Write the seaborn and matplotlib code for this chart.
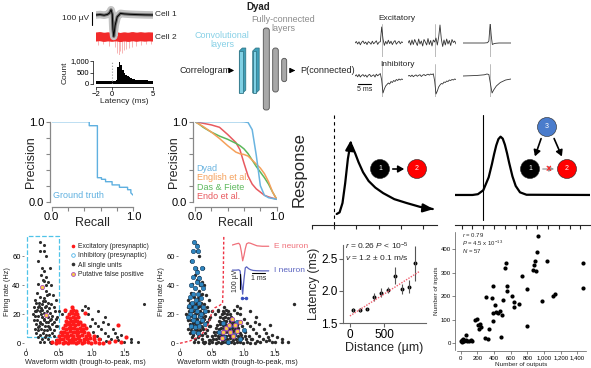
import numpy as np
import matplotlib.pyplot as plt
import matplotlib.patches as mpatches
from matplotlib.lines import Line2D
import seaborn as sns

W, H = 591, 368

# ---- example pair: spike waveforms (uV) and cross-correlogram ----
cell1_t = [-2, -1.5, -1, -0.6, -0.35, -0.15, 0, 0.08, 0.18, 0.35, 0.6, 1.0, 1.5, 2.2, 3, 4, 5]
cell1_uv = [0, 3, -2, 4, 15, 40, 5, -110, -165, -80, -15, 12, 8, 5, 3, 1, 0]
cell2_t = [-2, -1.5, -1, -0.5, 0, 0.5, 1, 1.5, 2, 2.5, 3, 3.5, 4, 4.5, 5]
cell2_uv = [0, 4, -3, 2, -2, 3, -4, 2, -3, 4, -2, 3, -1, 2, 0]
cell2_spike_t = [-1.7, -1.1, -0.4, 0.3, 0.6, 0.8, 1.0, 1.2, 1.4, 1.7, 2.0, 2.4, 2.9, 3.5, 4.2, 4.7]
cell2_spike_uv = [-60, -55, -65, -80, -120, -135, -110, -125, -100, -95, -85, -75, -65, -60, -55, -50]

ccg_lag = [round(-1.9 + 0.2 * i, 1) for i in range(35)]
ccg_count = [115, 125, 110, 130, 120, 128, 135, 125, 132, 140,
             145, 150, 170,
             720, 960, 820, 620, 490, 390, 330, 285, 250, 225, 205, 190,
             180, 175, 170, 165, 160, 158, 155, 150, 148, 145]

# ---- excitatory / inhibitory example traces (ms, arbitrary units) ----
trace_t = [-10 + 0.5 * i for i in range(37)]
exc_a = [0.0, 1.5, -1.0, 1.2, -1.8, 0.8, 2.0, -0.6, 1.0, -1.6, 1.4, 0.4, -1.2, 1.8, -0.8, 0.6, 2.2,
         -1.4, 0.8, 1.2, 16.0, 4.0, -2.4, 1.6, -1.0, 2.8, -0.6, 1.8, -1.6, 1.0, 2.4, -1.2, 0.6, 1.8, -0.8, 1.2, 0.4]
exc_b = [0.0, 2.5, -2.0, 3.0, -1.5, 3.5, 0.5, -2.5, 4.0, -1.0, 2.0, -3.0, 3.5, 1.0, -2.0, 4.5, -1.5, 2.5,
         -3.0, 3.0, 1.0, 5.0, -2.0, 6.0, 18.0, 4.0, -3.5, 3.0, -2.0, 4.0, -1.0, 2.5, -2.5, 3.5, 0.5, 2.0, -1.0]
exc_c_t = [-10, -2, -0.8, -0.3, 0.2, 0.6, 1.0, 1.5, 2.2, 3.5, 8]
exc_c = [0, 0, 0.3, 2.0, 20.0, 7.0, -1.5, -0.8, -0.3, 0, 0]
inh_a = [0.0, 1.2, -0.8, 1.6, -1.0, 0.6, 1.4, -0.4, 1.0, -1.2, 0.8, 1.6, -0.6, 0.4, 1.2, -1.0, 1.8,
         0.2, 1.4, 2.4, -4.0, -17.0, -13.0, -10.0, -8.5, -7.0, -8.0, -5.5, -6.5, -4.5, -5.5, -3.5, -4.5, -3.0, -4.0, -3.0, -3.5]
inh_b = [0.0, 0.6, -0.5, 0.9, -0.7, 0.4, 1.1, -0.3, 0.7, 1.3, -0.5, 0.8, 1.5, 0.3, 1.2, 1.8, 0.9, 2.0,
         1.4, 2.2, -5.0, -18.0, -15.0, -11.0, -9.0, -7.5, -8.0, -6.0, -6.5, -5.0, -5.5, -4.0, -4.5, -3.5, -4.0, -3.0, -3.5]
inh_c_t = [-10, -5, -2, -1, -0.3, 0.3, 0.9, 1.5, 2.5, 4, 6, 8]
inh_c = [0, 0.5, 1.2, 2.0, 1.5, -8.0, -17.0, -14.0, -10.0, -6.5, -4.0, -3.0]

# ---- precision-recall ----
gt_recall = [0, 0.46, 0.46, 0.56, 0.56, 0.61, 0.61, 0.66, 0.66, 0.74, 0.74, 0.83, 0.83, 0.93, 0.93, 0.97, 0.97, 1.0]
gt_precision = [1.0, 1.0, 0.95, 0.95, 0.30, 0.30, 0.28, 0.28, 0.25, 0.25, 0.21, 0.21, 0.18, 0.18, 0.15, 0.15, 0.11, 0.08]
recall = [0, 0.05, 0.1, 0.2, 0.3, 0.4, 0.5, 0.55, 0.6, 0.65, 0.7, 0.75, 0.8, 0.85, 0.9, 0.95, 1.0]
prec_dyad = [1, 1, 1, 1, 1, 1, 1, 1, 0.998, 0.99, 0.9, 0.58, 0.2, 0.08, 0.05, 0.04, 0.03]
prec_english = [1, 0.97, 0.94, 0.87, 0.79, 0.7, 0.62, 0.6, 0.59, 0.57, 0.52, 0.47, 0.42, 0.35, 0.25, 0.12, 0.03]
prec_das = [1, 0.97, 0.93, 0.87, 0.82, 0.78, 0.73, 0.7, 0.66, 0.6, 0.52, 0.44, 0.37, 0.3, 0.22, 0.12, 0.03]
prec_endo = [1, 0.99, 0.98, 0.96, 0.93, 0.84, 0.74, 0.65, 0.48, 0.32, 0.22, 0.16, 0.12, 0.08, 0.06, 0.045, 0.03]
methods = ["Dyad", "English et al.", "Das & Fiete", "Endo et al."]

# ---- schematic responses ----
resp1_t = [1.12, 1.25, 1.38, 1.5, 1.62, 1.72, 1.8, 1.95, 2.1, 2.3, 2.55, 2.85, 3.2, 3.7, 4.25, 4.85, 5.35]
resp1_y = [0.10, 0.115, 0.2, 0.38, 0.6, 0.72, 0.72, 0.65, 0.57, 0.48, 0.4, 0.34, 0.29, 0.235, 0.2, 0.165, 0.147]
resp2_t = [-0.62, 1.0, 1.5, 2.0, 2.5, 2.8, 3.0, 3.2, 3.4, 3.6, 3.8, 4.0, 4.2, 4.4, 4.7, 5.0, 5.4, 6.0, 11.88]
resp2_y = [0.273, 0.273, 0.28, 0.316, 0.434, 0.554, 0.644, 0.724, 0.781, 0.803, 0.785, 0.73, 0.652, 0.563,
           0.442, 0.355, 0.297, 0.275, 0.273]

# ---- waveform width vs firing rate ----
narrow_w = [0.22, 0.27, 0.21, 0.27, 0.18, 0.30, 0.25, 0.36, 0.27, 0.23, 0.30, 0.28, 0.34, 0.19, 0.31, 0.38,
            0.24, 0.30, 0.17, 0.35, 0.41, 0.22, 0.28, 0.45, 0.13, 0.15, 0.20, 0.25, 0.33, 0.38, 0.12, 0.18,
            0.23, 0.29, 0.35, 0.42, 0.16, 0.21, 0.27, 0.32, 0.37, 0.44, 0.10, 0.14, 0.19, 0.24, 0.30, 0.34,
            0.40, 0.47, 0.12, 0.17, 0.22, 0.27, 0.31, 0.36, 0.43, 0.15, 0.20, 0.25, 0.29, 0.33, 0.39, 0.46,
            0.13, 0.18, 0.23, 0.27, 0.32, 0.37, 0.42, 0.16, 0.21, 0.26, 0.30, 0.35, 0.40, 0.19, 0.24, 0.29,
            0.34, 0.22, 0.28, 0.37, 0.26, 0.32, 0.20, 0.38, 0.17, 0.25, 0.31, 0.21, 0.27, 0.35, 0.14, 0.29,
            0.23, 0.33, 0.19, 0.26]
narrow_fr = [70, 68, 64, 64, 57, 60, 52, 52, 50, 47, 46, 43, 42, 41, 40, 40,
             38, 36, 35, 34, 33, 32, 31, 30, 30, 28, 28, 27, 28, 27, 25, 25,
             24, 25, 24, 25, 22, 22, 21, 22, 21, 22, 20, 19, 19, 18, 19, 18,
             19, 18, 16, 16, 15, 16, 15, 16, 15, 13, 12, 13, 12, 12, 13, 12,
             10, 9, 10, 9, 9, 10, 9, 7, 6, 7, 6, 6, 7, 4, 3, 4,
             3, 1, 1, 1, 29, 33, 26, 17, 23, 23, 26, 14, 17, 11, 22, 29,
             20, 15, 11, 44]
broad_w = [0.50, 0.55, 0.60, 0.45, 0.48, 0.42, 0.45, 0.38, 0.85, 0.95, 1.00, 1.05, 1.10, 1.15, 1.20, 1.25,
           1.30, 1.40, 1.50, 1.60, 1.20, 1.80, 1.10, 0.95, 1.35, 1.25, 1.60, 1.70, 0.90, 1.32, 1.45, 1.18,
           1.02, 1.08, 0.98, 1.13, 1.22, 1.38]
broad_fr = [22, 20, 22, 17, 12, 5, 2, 0.5, 23, 20, 17, 14, 12, 10, 7, 5,
            3, 2, 1, 1, 18, 27, 22, 24, 7, 13, 3, 1, 26, 10, 6, 15,
            8, 5, 12, 3, 1.5, 4]
exc_w = [0.40, 0.46, 0.51, 0.56, 0.60, 0.64, 0.68, 0.72, 0.76, 0.80, 0.85, 0.89, 0.94, 0.99, 1.05, 1.11, 1.18, 1.26,
         0.47, 0.52, 0.57, 0.62, 0.66, 0.70, 0.74, 0.79, 0.83, 0.88, 0.93, 0.98, 1.04, 1.12,
         0.50, 0.55, 0.60, 0.64, 0.68, 0.72, 0.77, 0.81, 0.86, 0.91, 0.96, 1.03,
         0.53, 0.58, 0.63, 0.67, 0.71, 0.75, 0.79, 0.84, 0.89, 0.95,
         0.56, 0.61, 0.65, 0.69, 0.73, 0.77, 0.82, 0.87, 0.92,
         0.59, 0.63, 0.67, 0.71, 0.75, 0.80, 0.85, 0.89,
         0.61, 0.65, 0.69, 0.73, 0.78, 0.83,
         0.63, 0.67, 0.71, 0.75, 0.80,
         0.66, 0.70, 0.74, 0.78,
         0.68, 0.72, 0.76,
         0.70,
         0.60, 1.41, 1.53, 0.90, 1.35, 1.45]
exc_fr = [0.6, 0.3, 1.0, 0.5, 0.9, 0.2, 0.7, 1.1, 0.4, 0.8, 0.3, 1.0, 0.6, 0.2, 0.8, 0.5, 0.3, 0.6,
          2.5, 3.2, 2.7, 3.4, 2.4, 3.0, 2.6, 3.3, 2.5, 3.1, 2.7, 3.4, 2.6, 2.9,
          5.0, 5.6, 5.2, 4.8, 5.7, 5.1, 5.5, 4.9, 5.4, 5.0, 5.6, 5.2,
          7.6, 8.1, 7.4, 8.3, 7.7, 8.0, 7.5, 8.2, 7.8, 7.4,
          10.5, 10.0, 10.8, 10.2, 10.6, 9.9, 10.4, 10.1, 10.7,
          12.6, 13.1, 12.5, 13.0, 12.7, 13.2, 12.8, 12.4,
          15.5, 15.0, 15.6, 15.1, 15.4, 15.0,
          17.9, 17.5, 18.1, 17.6, 17.8,
          20.2, 20.6, 20.0, 20.4,
          22.4, 22.9, 22.3,
          24.8,
          23.0, 12.4, 4.5, 21.0, 1.5, 0.8]
inh_w = [0.22, 0.26, 0.20, 0.28, 0.19, 0.24, 0.35, 0.26, 0.20, 0.30, 0.27, 0.33, 0.18, 0.23, 0.36, 0.21,
         0.29, 0.16, 0.33, 0.25, 0.19, 0.30, 0.14, 0.23, 0.36, 0.18, 0.27, 0.40, 0.15, 0.22, 0.31, 0.20,
         0.26, 0.35, 0.17, 0.24, 0.30, 0.21, 0.28, 0.40, 0.13, 0.33,
         0.62, 0.70, 0.78, 0.85, 0.95, 0.90, 0.75, 0.67, 1.00]
inh_fr = [70, 67, 64, 64, 57, 52, 52, 49, 46, 45, 42, 41, 40, 38, 38, 34,
          34, 32, 31, 30, 28, 28, 26, 25, 25, 23, 22, 22, 20, 19, 19, 16,
          15, 16, 12, 11, 12, 8, 7, 13, 18, 20,
          8, 4, 12, 6, 3, 15, 1, 14, 9]
fp1_w = [0.24, 0.30]
fp1_fr = [39, 19.5]
fp2_w = [0.82, 0.73, 0.68, 0.79, 0.86, 0.90, 0.84, 0.66, 0.95, 0.77]
fp2_fr = [16.5, 10.3, 8.0, 8.0, 12.6, 8.5, 5.0, 3.4, 15.0, 12.6]
boundary_w = [0.0, 0.15, 0.30, 0.40, 0.46, 0.50, 0.55, 0.62, 0.67, 0.68, 0.69]
boundary_fr = [0, 1.5, 4.5, 9, 15, 21, 24.5, 26, 27.5, 40, 75]

# mean waveforms (ms, uV)
wf_t = [-0.8, -0.5, -0.3, -0.2, -0.1, 0.0, 0.1, 0.2, 0.3, 0.45, 0.6, 0.8, 1.1, 1.5, 2.0]
wf_e = [0, 8, 12, 0, -45, -105, -70, -25, 8, 15, 12, 5, -5, -8, -8]
wf_i = [0, 0, 2, -5, -80, -160, -60, 15, 22, 10, 3, -2, -4, -5, -5]

# ---- conduction latency vs distance ----
dist_um = [50, 150, 250, 350, 450, 550, 650, 750, 850, 950]
latency_ms = [1.70, 1.70, 1.72, 1.91, 1.97, 2.02, 2.24, 2.03, 2.07, 2.43]
latency_err = [0.03, 0.03, 0.02, 0.06, 0.07, 0.05, 0.13, 0.08, 0.10, 0.28]
fit_dist = [0, 1000]
fit_latency = [1.61, 2.30]

# ---- outputs vs inputs ----
n_outputs = [5, 15, 20, 30, 45, 60, 80, 100, 120, 140, 25, 10, 64, 292, 332, 484, 172, 192, 212, 220,
             232, 240, 304, 344, 372, 384, 384, 392, 412, 424, 452, 472, 492, 504, 532, 544, 552, 560,
             612, 640, 640, 704, 732, 800, 800, 864, 880, 892, 904, 912, 924, 980, 1032, 1112, 1132,
             1464, 1464]
n_inputs = [10, 15, 8, 12, 10, 14, 9, 12, 14, 11, 20, 5, 35, 21, 17, 25, 99, 103, 77, 63,
            82, 70, 197, 63, 193, 244, 130, 95, 162, 131, 127, 137, 120, 183, 320, 342, 223, 244,
            200, 176, 154, 165, 286, 230, 75, 310, 334, 349, 306, 385, 454, 180, 349, 200, 211,
            342, 235]

sns.set_style("ticks")
plt.rcParams['font.family'] = ['Liberation Sans', 'DejaVu Sans']
plt.rcParams['mathtext.fontset'] = 'custom'
plt.rcParams['mathtext.it'] = 'Liberation Sans:italic'
plt.rcParams['mathtext.rm'] = 'Liberation Sans'

fig = plt.figure(figsize=(W / 100, H / 100), dpi=100)


def box(x0, y0, x1, y1):
    # axes from pixel corners (top-left origin)
    return fig.add_axes([x0 / W, 1 - y1 / H, (x1 - x0) / W, (y1 - y0) / H])


def line(ax, x, y, **kw):
    sns.lineplot(x=x, y=y, ax=ax, estimator=None, sort=False, legend=False, **kw)


def style_small(ax, fs, color='k'):
    ax.tick_params(labelsize=fs, length=2, width=0.5, pad=1, colors=color, labelcolor='k')
    for s in ax.spines.values():
        s.set_linewidth(0.5)
        s.set_color(color)


# ---------------- waveforms ----------------
ax = box(96, 3, 153, 55)
ax.set_xlim(-2, 5)
ax.set_ylim(-308, 92)
ax.axis('off')
ax.vlines(cell2_spike_t, -170, np.array(cell2_spike_uv) - 170, color='#f6a9a9', lw=0.6)
line(ax, cell2_t, np.array(cell2_uv) - 170, color='#f22a2a', lw=6.5)
line(ax, cell1_t, cell1_uv, color='#c4c4c4', lw=5.5)
line(ax, cell1_t, cell1_uv, color='#6a6a6a', lw=2.2)
line(ax, cell1_t, cell1_uv, color='k', lw=0.7)
ax.plot([-2.5, -2.5], [25, -75], color='k', lw=0.8, clip_on=False)
ax.text(-2.9, -25, "100 µV", fontsize=6, ha='right', va='center')
ax.text(5.2, 0, "Cell 1", fontsize=6, va='center')
ax.text(5.2, -170, "Cell 2", fontsize=6, va='center')

ax = box(96, 61, 153, 84)
ax.bar(ccg_lag, ccg_count, width=0.2, color='k', linewidth=0)
ax.axvline(0, color='#999999', ls=':', lw=0.8)
ax.set_xlim(-2, 5)
ax.set_ylim(0, 1000)
ax.set_xticks([-2, 0, 5])
ax.set_yticks([0, 500, 1000], ['0', '500', '1,000'])
ax.set_xlabel("Latency (ms)", fontsize=6, labelpad=0)
ax.set_ylabel("Count", fontsize=6, labelpad=1)
style_small(ax, 5.5)
sns.despine(ax=ax, offset=2)

# ---------------- excitatory / inhibitory traces ----------------
row1 = [(355, 403), (408, 456), (463, 511)]
row2 = [(355, 403), (408, 456), (463, 511)]
exc_traces = [(trace_t, exc_a), (trace_t, exc_b), (exc_c_t, exc_c)]
inh_traces = [(trace_t, inh_a), (trace_t, inh_b), (inh_c_t, inh_c)]
for (x0, x1), (tt, vv) in zip(row1, exc_traces):
    ax = box(x0, 24, x1, 57)
    ax.set_xlim(-10, 8)
    ax.set_ylim(-14, 19)
    ax.axis('off')
    ax.axvline(0, color='#b0b0b0', lw=0.6)
    line(ax, tt, vv, color='#333333', lw=0.6)
for (x0, x1), (tt, vv) in zip(row2, inh_traces):
    ax = box(x0, 64, x1, 97)
    ax.set_xlim(-10, 8)
    ax.set_ylim(-21, 12)
    ax.axis('off')
    ax.axvline(0, color='#b0b0b0', lw=0.6)
    line(ax, tt, vv, color='#333333', lw=0.6)
    if x0 == 355:
        ax.plot([-8.9, -4], [-7.5, -7.5], color='k', lw=0.8)
        ax.text(-6.45, -10, "5 ms", fontsize=5, ha='center', va='top')

# ---------------- precision-recall ----------------
def pr_axes(x0, x1):
    ax = box(x0, 121.7, x1, 201.7)
    ax.set_xlim(0, 1)
    ax.set_ylim(0, 1)
    ax.set_xticks(np.linspace(0, 1, 6), ['0.0', '', '', '', '', '1.0'])
    ax.set_yticks(np.linspace(0, 1, 6), ['0.0', '', '', '', '', '1.0'])
    ax.tick_params(labelsize=8, length=3, width=0.8, pad=1, colors='#888888', labelcolor='k')
    for s in ax.spines.values():
        s.set_color('#888888')
        s.set_linewidth(0.9)
    ax.set_xlabel("Recall", fontsize=9, labelpad=-4)
    ax.set_ylabel("Precision", fontsize=9, labelpad=-6)
    sns.despine(ax=ax, offset={'left': 1.5, 'bottom': 3.5})
    return ax


ax = pr_axes(51.7, 133.3)
line(ax, gt_recall, gt_precision, color='#5fb0e0', lw=1.0)
ax.text(0.02, 0.02, "Ground truth", color='#5fb0e0', fontsize=6.5, va='bottom')

ax = pr_axes(195, 276.7)
pr_colors = ['#6ab4e0', '#f5a05a', '#5cb85c', '#e8595f']
for vals, c in zip([prec_endo, prec_das, prec_english, prec_dyad], pr_colors[::-1]):
    line(ax, recall, vals, color=c, lw=1.1)
for i, (m, c) in enumerate(zip(methods, pr_colors)):
    ax.text(0.02, 0.42 - i * 0.12, m, color=c, fontsize=6.5, va='center')

# ---------------- schematic responses ----------------
ax = box(311.7, 115, 436.7, 225)
ax.set_xlim(0, 5.6)
ax.set_ylim(0, 1)
ax.set_xticks(range(6), [])
ax.set_yticks([])
ax.tick_params(length=3, width=0.8)
sns.despine(ax=ax, left=True)
ax.axvline(1, color='k', ls=(0, (3, 3)), lw=0.8)
line(ax, resp1_t, resp1_y, color='k', lw=1.6)
ax.annotate('', xy=(1.78, 0.80), xytext=(1.72, 0.70),
            arrowprops=dict(arrowstyle='-|>,head_width=0.25,head_length=0.6', color='k', lw=1.6))
ax.annotate('', xy=(5.58, 0.142), xytext=(5.3, 0.148),
            arrowprops=dict(arrowstyle='-|>,head_width=0.25,head_length=0.6', color='k', lw=1.6))

ax = box(455, 115, 590, 225)
ax.set_xlim(-0.62, 11.88)
ax.set_ylim(0, 1)
ax.set_xticks(range(12), [])
ax.set_yticks([])
ax.tick_params(length=3, width=0.8)
sns.despine(ax=ax, left=True)
ax.axvline(2, ymin=0.045, color='k', lw=0.8)
line(ax, resp2_t, resp2_y, color='k', lw=1.6)

# ---------------- scatter: waveform width ----------------
def width_axes(x_zero, px_per_unit):
    ax = box(x_zero - 0.03 * px_per_unit, 234.6, x_zero + 1.85 * px_per_unit, 347.6)
    ax.set_xlim(-0.03, 1.85)
    ax.set_ylim(-3, 75)
    ax.set_xticks([0, 0.5, 1.0, 1.5], ['0', '0.5', '1.0', '1.5'])
    ax.set_yticks([0, 20, 40, 60])
    ax.tick_params(labelsize=5.5, length=1.8, width=0.5, pad=0.6, colors='#555555', labelcolor='k')
    ax.set_xlabel("Waveform width (trough-to-peak, ms)", fontsize=5.3, labelpad=0.5)
    ax.set_ylabel("Firing rate (Hz)", fontsize=5.3, labelpad=1)
    sns.despine(ax=ax, left=True, bottom=True)
    return ax


ax = width_axes(26, 65.6)
ax.add_patch(mpatches.Rectangle((0.01, 4.4), 0.5, 69.6, fill=False, ec='#4fc3e8', ls='--', lw=0.9))
sns.scatterplot(x=narrow_w + broad_w, y=narrow_fr + broad_fr, s=5, color='#2e2e2e', linewidth=0, ax=ax)
sns.scatterplot(x=exc_w, y=exc_fr, s=9, color='#ff1a1a', linewidth=0, ax=ax)
sns.scatterplot(x=fp1_w, y=fp1_fr, s=9, color='#f7c948', edgecolor='#b04fc0', linewidth=0.6, ax=ax)
handles = [Line2D([], [], ls='', marker='o', ms=1.6, color='#ff1a1a'),
           Line2D([], [], ls='', marker='o', ms=2.6, mfc='none', mec='#4fb3e8', mew=0.6),
           Line2D([], [], ls='', marker='o', ms=1.6, color='#333333'),
           Line2D([], [], ls='', marker='o', ms=2.8, mfc='#f7c948', mec='#b04fc0', mew=0.6)]
labels = ["Excitatory (presynaptic)", "Inhibitory (presynaptic)", "All single units", "Putative false positive"]
ax.legend(handles, labels, loc='upper left', bbox_to_anchor=(70 / W, 1 - 243 / H), bbox_transform=fig.transFigure,
          frameon=False, fontsize=4.9, handletextpad=0.2, labelspacing=0.35, borderaxespad=0, borderpad=0,
          handlelength=1.0)

ax = width_axes(180, 63.5)
sns.scatterplot(x=narrow_w + broad_w + exc_w, y=narrow_fr + broad_fr + exc_fr, s=6, color='#2a2a2a',
                linewidth=0, ax=ax)
sns.scatterplot(x=inh_w, y=inh_fr, s=10, color='#2e86c1', edgecolor='#163b5c', linewidth=0.4, ax=ax)
sns.scatterplot(x=fp2_w, y=fp2_fr, s=10, color='#f7c948', edgecolor='#9b3fb5', linewidth=0.6, ax=ax)
line(ax, boundary_w, boundary_fr, color='#ee3344', lw=1.0, linestyle=(0, (2, 1.5)))

# inset waveforms
ax = box(232, 238, 272, 300)
ax.set_xlim(-0.82, 2.25)
ax.set_ylim(-366, 47)
ax.axis('off')
line(ax, wf_t, wf_e, color='#f0707a', lw=0.9)
line(ax, wf_t, np.array(wf_i) - 167, color='#5a63c0', lw=0.9)
ax.plot([-0.2, -0.2], [-190, -290], color='k', lw=0.8)
ax.text(-0.32, -240, "100 µV", rotation=90, fontsize=5, ha='right', va='center')
ax.plot([0.7, 1.7], [-185, -185], color='k', lw=0.8)
ax.text(1.2, -200, "1 ms", fontsize=5, ha='center', va='top')
ax.plot([-0.05, 0.25], [-352, -352], color='#3a50c0', lw=0.8, marker='o', ms=1.5)
ax.text(2.4, -8, "E neuron", color='#f0707a', fontsize=6, va='center', clip_on=False)
ax.text(2.4, -172, "I neuron", color='#5a63c0', fontsize=6, va='center', clip_on=False)

# ---------------- latency vs distance ----------------
ax = box(343, 244.9, 425.8, 323)
ax.set_xlim(-100, 1100)
ax.set_ylim(1.5, 2.72)
ax.errorbar(dist_um, latency_ms, yerr=latency_err, fmt='none', ecolor='#555555', elinewidth=0.8)
sns.scatterplot(x=dist_um, y=latency_ms, s=8, color='k', linewidth=0, ax=ax)
line(ax, fit_dist, fit_latency, color='#f06070', lw=1.0, linestyle=(0, (1, 1)))
ax.set_xticks([0, 500])
ax.set_yticks([1.5, 2.0, 2.5])
ax.tick_params(labelsize=8.5, length=3, width=0.8, pad=1, colors='#666666', labelcolor='k')
for s in ax.spines.values():
    s.set_color('#666666')
ax.set_xlabel("Distance (µm)", fontsize=9, labelpad=1)
ax.set_ylabel("Latency (ms)", fontsize=9, labelpad=1)
sns.despine(ax=ax)
ax.text(-70, 2.70, r"$r$ = 0.26 $P$ < 10$^{-5}$", fontsize=6, va='center')
ax.text(-70, 2.525, r"$v$ = 1.2 ± 0.1 m/s", fontsize=6, va='center')

# ---------------- outputs vs inputs ----------------
ax = box(456.5, 232.4, 585.7, 350)
ax.set_xlim(-50, 1500)
ax.set_ylim(-28, 470)
sns.scatterplot(x=n_outputs, y=n_inputs, s=9, color='k', linewidth=0, ax=ax)
ax.set_xticks(range(0, 1401, 200), ['0', '200', '400', '600', '800', '1,000', '1,200', '1,400'])
ax.set_yticks(range(0, 401, 100))
style_small(ax, 4.3, color='#555555')
ax.set_xlabel("Number of outputs", fontsize=4.6, labelpad=1)
ax.set_ylabel("Number of inputs", fontsize=4.6, labelpad=1)
sns.despine(ax=ax, offset=1)
ax.text(10, 458, r"$r$ = 0.79", fontsize=4.3, va='center')
ax.text(10, 425, r"$P$ = 4.5 x 10$^{-13}$", fontsize=4.3, va='center')
ax.text(10, 390, r"$N$ = 57", fontsize=4.3, va='center')

# ---------------- overlay: model diagram, circuit motifs ----------------
ov = fig.add_axes([0, 0, 1, 1], zorder=10)
ov.set_xlim(0, W)
ov.set_ylim(H, 0)
ov.axis('off')
ov.patch.set_alpha(0)

ov.text(258, 7, "Dyad", fontsize=7, fontweight='bold', ha='center', va='center', color='#222222')
ov.text(283, 24, "Fully-connected\nlayers", fontsize=6.5, ha='center', va='center', color='#8c8c8c',
        linespacing=0.95)
ov.text(222, 40, "Convolutional\nlayers", fontsize=6.5, ha='center', va='center', color='#86d0e6',
        linespacing=0.95)
ov.text(180, 70.5, "Correlogram", fontsize=6.6, ha='left', va='center')
ov.annotate('', xy=(237, 70.5), xytext=(228.5, 70.5), arrowprops=dict(arrowstyle='-|>,head_width=0.15,head_length=0.3', color='k', lw=0.8))
for x in (239.3, 252.7):
    ov.add_patch(mpatches.Polygon([[x, 51], [x + 3, 48], [x + 6.5, 48], [x + 6.5, 90], [x + 3.5, 93], [x, 93]],
                                  closed=True, fc='#3f9fb8', ec='#2a6f80', lw=0.5))
    ov.add_patch(mpatches.Rectangle((x, 51), 3.6, 42, fc='#80d0e4', ec='#2a6f80', lw=0.5))
for x0, y0, w, h in [(263.3, 28, 6, 82), (272.7, 48, 5.6, 44), (281.7, 58.3, 5, 23.4)]:
    ov.add_patch(mpatches.FancyBboxPatch((x0, y0), w, h, boxstyle='round,pad=0,rounding_size=2.5',
                                         fc='#a8a8a8', ec='#505050', lw=0.6))
ov.annotate('', xy=(298, 70.5), xytext=(290, 70.5), arrowprops=dict(arrowstyle='-|>,head_width=0.15,head_length=0.3', color='k', lw=0.8))
ov.text(300.5, 70.5, "P(connected)", fontsize=6.6, ha='left', va='center')
ov.text(378, 19, "Excitatory", fontsize=6, ha='left', va='center')
ov.text(380, 64, "Inhibitory", fontsize=6, ha='left', va='center')

ov.text(299, 170, "Response", fontsize=12, rotation=90, ha='center', va='center')


def node(x, y, label, color):
    ov.add_patch(mpatches.Circle((x, y), 9.5, fc=color, ec='#222222', lw=0.4))
    ov.text(x, y, label, color='white', fontsize=5, ha='center', va='center')


arrow_kw = dict(arrowstyle='-|>,head_width=0.2,head_length=0.35', color='k', lw=1.2)
node(380, 169, "1", '#000000')
node(417, 169, "2", '#ff0000')
ov.annotate('', xy=(407, 169), xytext=(390, 169), arrowprops=arrow_kw)
node(547, 127, "3", '#4a7ccc')
node(530, 169, "1", '#000000')
node(567, 169, "2", '#ff0000')
ov.annotate('', xy=(534, 159), xytext=(542, 136), arrowprops=arrow_kw)
ov.annotate('', xy=(563, 159), xytext=(553, 136), arrowprops=arrow_kw)
ov.annotate('', xy=(557, 169), xytext=(540, 169),
            arrowprops=dict(arrowstyle='-|>,head_width=0.15,head_length=0.3', color='#999999', lw=0.9, ls='--'))
ov.text(548.5, 169, "×", color='#ff2222', fontsize=7, ha='center', va='center', fontweight='bold')

fig.savefig("out.png", dpi=100)
